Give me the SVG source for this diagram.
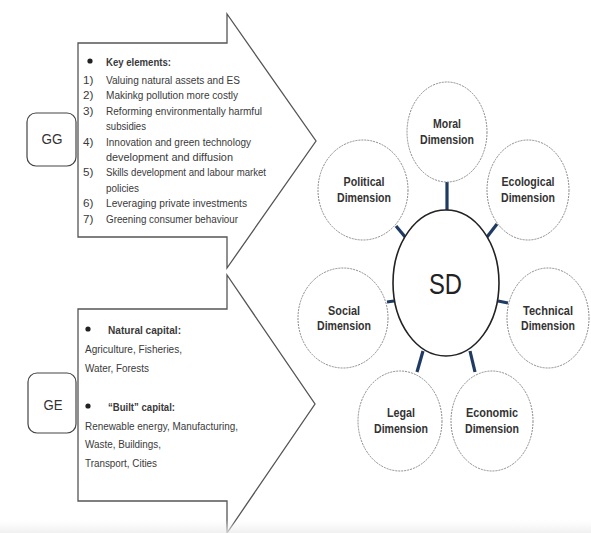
<svg xmlns="http://www.w3.org/2000/svg" width="591" height="533" viewBox="0 0 591 533">
<defs>
<linearGradient id="band" x1="0" y1="0" x2="0" y2="1">
<stop offset="0" stop-color="#f2f2f2" stop-opacity="0"/>
<stop offset="1" stop-color="#ececec" stop-opacity="1"/>
</linearGradient>
</defs>
<style>
.arrow{fill:#fff;stroke:#555;stroke-width:1.3;stroke-linejoin:miter}
.box{fill:#fff;stroke:#444;stroke-width:1.2}
.lbl{font-family:"Liberation Sans",Arial,sans-serif;font-size:15.5px;fill:#333;text-anchor:middle}
.t{font-family:"Liberation Sans",Arial,sans-serif;font-size:11.7px;fill:#3a3a3a}
.b{font-weight:bold}
.dim{fill:#fff;stroke:#8a8a8a;stroke-width:1;stroke-dasharray:2 1}
.sd{fill:#fff;stroke:#222;stroke-width:1.6}
.dt{font-family:"Liberation Sans",Arial,sans-serif;font-size:13.5px;font-weight:bold;fill:#333;text-anchor:middle}
.con line{stroke:#1f3b63;stroke-width:3.2}
</style>
<rect width="591" height="533" fill="#fff"/>

<g id="gg-arrow">
<path class="arrow" d="M78 43 H227 V14 L316 141 L227 268 V237 H78 Z"/>
<circle cx="90" cy="61" r="2.6" fill="#222"/>
<text class="t b" x="106" y="66" textLength="65" lengthAdjust="spacingAndGlyphs">Key elements:</text>
<text class="t" x="83" y="84">1)</text>
<text class="t" x="106" y="84" textLength="134" lengthAdjust="spacingAndGlyphs">Valuing natural assets and ES</text>
<text class="t" x="83" y="99.4">2)</text>
<text class="t" x="106" y="99.4" textLength="132" lengthAdjust="spacingAndGlyphs">Makinkg pollution more costly</text>
<text class="t" x="83" y="114.8">3)</text>
<text class="t" x="106" y="114.8" textLength="156" lengthAdjust="spacingAndGlyphs">Reforming environmentally harmful</text>
<text class="t" x="106" y="130.2" textLength="40" lengthAdjust="spacingAndGlyphs">subsidies</text>
<text class="t" x="83" y="145.6">4)</text>
<text class="t" x="106" y="145.6" textLength="145" lengthAdjust="spacingAndGlyphs">Innovation and green technology</text>
<text class="t" x="106" y="161" textLength="127" lengthAdjust="spacingAndGlyphs">development and diffusion</text>
<text class="t" x="83" y="176.4">5)</text>
<text class="t" x="106" y="176.4" textLength="160" lengthAdjust="spacingAndGlyphs">Skills development and labour market</text>
<text class="t" x="106" y="191.8" textLength="33" lengthAdjust="spacingAndGlyphs">policies</text>
<text class="t" x="83" y="207.2">6)</text>
<text class="t" x="106" y="207.2" textLength="141" lengthAdjust="spacingAndGlyphs">Leveraging private investments</text>
<text class="t" x="83" y="222.6">7)</text>
<text class="t" x="106" y="222.6" textLength="132" lengthAdjust="spacingAndGlyphs">Greening consumer behaviour</text>
</g>

<g id="ge-arrow">
<path class="arrow" d="M78 309 H227 V275 L315 404 L227 533 V501 H78 Z"/>
<circle cx="88" cy="329" r="2.6" fill="#222"/>
<text class="t b" x="108" y="334" textLength="73" lengthAdjust="spacingAndGlyphs">Natural capital:</text>
<text class="t" x="85" y="353" textLength="97" lengthAdjust="spacingAndGlyphs">Agriculture, Fisheries,</text>
<text class="t" x="85" y="372" textLength="64" lengthAdjust="spacingAndGlyphs">Water, Forests</text>
<circle cx="88" cy="406" r="2.6" fill="#222"/>
<text class="t b" x="108" y="411" textLength="67" lengthAdjust="spacingAndGlyphs">“Built” capital:</text>
<text class="t" x="85" y="430" textLength="153" lengthAdjust="spacingAndGlyphs">Renewable energy, Manufacturing,</text>
<text class="t" x="85" y="448" textLength="76" lengthAdjust="spacingAndGlyphs">Waste, Buildings,</text>
<text class="t" x="85" y="467" textLength="72" lengthAdjust="spacingAndGlyphs">Transport, Cities</text>
</g>

<g id="gg">
<rect class="box" x="27" y="113" width="49" height="53" rx="9"/>
<text class="lbl" x="52" y="143.5" textLength="21" lengthAdjust="spacingAndGlyphs">GG</text>
</g>
<g id="ge">
<rect class="box" x="28" y="373" width="48" height="60" rx="9"/>
<text class="lbl" x="53" y="409.5" textLength="19" lengthAdjust="spacingAndGlyphs">GE</text>
</g>

<g class="con" id="connectors">
<line x1="447" y1="182" x2="447" y2="211"/>
<line x1="396" y1="226" x2="406" y2="238"/>
<line x1="497" y1="224" x2="487" y2="237"/>
<line x1="387" y1="302" x2="394" y2="301"/>
<line x1="498" y1="301" x2="508" y2="303"/>
<line x1="423" y1="351" x2="417" y2="372"/>
<line x1="470" y1="351" x2="475" y2="372"/>
</g>

<g id="sd">
<ellipse class="sd" cx="446" cy="283" rx="53" ry="73"/>
<text x="445.5" y="293.5" font-family="Liberation Sans,Arial,sans-serif" font-size="30" fill="#222" text-anchor="middle" textLength="33" lengthAdjust="spacingAndGlyphs">SD</text>
</g>

<g id="moral">
<ellipse class="dim" cx="447" cy="132" rx="40" ry="50"/>
<text class="dt" x="447" y="128" textLength="28" lengthAdjust="spacingAndGlyphs">Moral</text>
<text class="dt" x="447" y="144" textLength="54" lengthAdjust="spacingAndGlyphs">Dimension</text>
</g>
<g id="political">
<ellipse class="dim" cx="363" cy="190" rx="45" ry="50"/>
<text class="dt" x="364" y="186" textLength="41" lengthAdjust="spacingAndGlyphs">Political</text>
<text class="dt" x="364" y="202" textLength="54" lengthAdjust="spacingAndGlyphs">Dimension</text>
</g>
<g id="ecological">
<ellipse class="dim" cx="528" cy="190" rx="41" ry="50"/>
<text class="dt" x="528" y="186" textLength="53" lengthAdjust="spacingAndGlyphs">Ecological</text>
<text class="dt" x="528" y="202" textLength="54" lengthAdjust="spacingAndGlyphs">Dimension</text>
</g>
<g id="social">
<ellipse class="dim" cx="343" cy="318" rx="45" ry="50"/>
<text class="dt" x="344" y="315" textLength="32" lengthAdjust="spacingAndGlyphs">Social</text>
<text class="dt" x="344" y="330" textLength="54" lengthAdjust="spacingAndGlyphs">Dimension</text>
</g>
<g id="technical">
<ellipse class="dim" cx="548" cy="318" rx="41" ry="50"/>
<text class="dt" x="548" y="315" textLength="50" lengthAdjust="spacingAndGlyphs">Technical</text>
<text class="dt" x="548" y="330" textLength="54" lengthAdjust="spacingAndGlyphs">Dimension</text>
</g>
<g id="legal">
<ellipse class="dim" cx="400" cy="421" rx="42" ry="50"/>
<text class="dt" x="401" y="417" textLength="28" lengthAdjust="spacingAndGlyphs">Legal</text>
<text class="dt" x="401" y="433" textLength="54" lengthAdjust="spacingAndGlyphs">Dimension</text>
</g>
<g id="economic">
<ellipse class="dim" cx="492" cy="421" rx="41" ry="50"/>
<text class="dt" x="492" y="417" textLength="52" lengthAdjust="spacingAndGlyphs">Economic</text>
<text class="dt" x="492" y="433" textLength="54" lengthAdjust="spacingAndGlyphs">Dimension</text>
</g>

<rect x="0" y="520" width="591" height="13" fill="url(#band)" opacity="0.8"/>
</svg>
